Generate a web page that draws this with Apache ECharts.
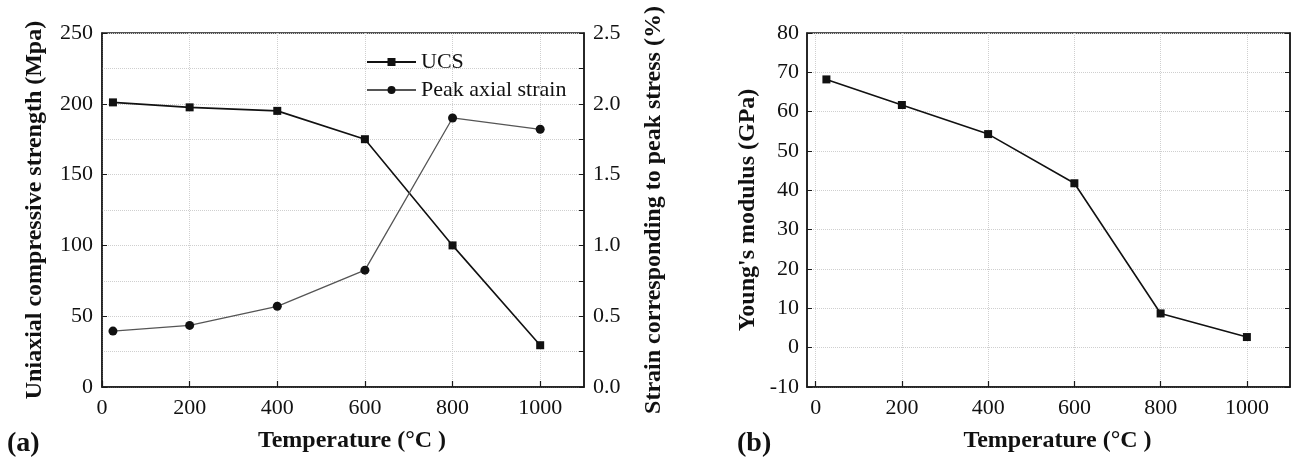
<!DOCTYPE html>
<html><head><meta charset="utf-8">
<script src="https://cdn.jsdelivr.net/npm/echarts@6/dist/echarts.min.js"></script>
<style>html,body{margin:0;padding:0;background:#fff}#c{width:1295px;height:460px}</style>
</head><body><div id="c"></div>
<script>
// ---- data ----
const temperatures = [25, 200, 400, 600, 800, 1000];
const ucs = [201, 197.5, 195, 175, 100, 29.5];
const peakStrain = [0.395, 0.435, 0.57, 0.825, 1.90, 1.82];
const youngsModulus = [68.2, 61.7, 54.3, 41.8, 8.7, 2.7];
const xTickValues = [0, 200, 400, 600, 800, 1000];
const seriesNames = ['UCS', 'Peak axial strain'];

const FONT = 'Liberation Serif';
const AX = '#1a1a1a';
const GRIDC = '#cfcfcf';
const pairs = (xs, ys) => xs.map((x, i) => [x, ys[i]]);

const splitDotted = {show: true, lineStyle: {color: GRIDC, type: 'dotted', width: 1}};
const labelStyle = {fontFamily: FONT, fontSize: 22, color: '#111'};
const nameStyleY = {fontFamily: FONT, fontSize: 24, fontWeight: 'bold', color: '#111'};
const nameStyleX = {fontFamily: FONT, fontSize: 24, fontWeight: 'bold', color: '#111', padding: [0, 0, 0, 18]};

function xAxisFor(gi, min) {
  return {
    type: 'value', gridIndex: gi, min: min, max: 1100,
    name: 'Temperature (°C )', nameLocation: 'middle', nameGap: 42, nameTextStyle: nameStyleX,
    axisLine: {show: true, onZero: false, lineStyle: {color: AX, width: 1.5}},
    axisTick: {show: true, inside: true, length: 6, customValues: xTickValues, lineStyle: {color: AX, width: 1.2}},
    axisLabel: Object.assign({customValues: xTickValues, margin: 10, formatter: v => String(v)}, labelStyle),
    splitLine: splitDotted
  };
}

const chart = echarts.init(document.getElementById('c'), null, {renderer: 'canvas'});
chart.setOption({
  animation: false,
  backgroundColor: '#fff',
  grid: [
    {left: 102, right: 711, top: 33, bottom: 73, show: true, borderColor: AX, borderWidth: 1.5, backgroundColor: 'transparent'},
    {left: 807, right: 5, top: 33, bottom: 73, show: true, borderColor: AX, borderWidth: 1.5, backgroundColor: 'transparent'}
  ],
  legend: {
    data: seriesNames, orient: 'vertical', left: 366, top: 51,
    itemWidth: 49, itemHeight: 10, itemGap: 6, padding: 0,
    textStyle: {fontFamily: FONT, fontSize: 22, color: '#111'}
  },
  xAxis: [xAxisFor(0, 0), xAxisFor(1, -20)],
  yAxis: [
    {type: 'value', gridIndex: 0, min: 0, max: 250, interval: 50, position: 'left',
     name: 'Uniaxial compressive strength (Mpa)', nameLocation: 'middle', nameGap: 55, nameTextStyle: nameStyleY,
     axisLine: {show: true, onZero: false, lineStyle: {color: AX, width: 1.5}},
     axisTick: {show: true, inside: true, length: 5, lineStyle: {color: AX}},
     axisLabel: Object.assign({margin: 9}, labelStyle),
     splitLine: splitDotted,
     minorTick: {show: false, splitNumber: 2},
     minorSplitLine: {show: true, lineStyle: {color: GRIDC, type: 'dotted', width: 1}}},
    {type: 'value', gridIndex: 0, min: 0, max: 2.5, interval: 0.5, position: 'right',
     name: 'Strain corresponding to peak stress (%)', nameLocation: 'middle', nameGap: 58, nameRotate: 90, nameTextStyle: nameStyleY,
     axisLine: {show: true, onZero: false, lineStyle: {color: AX, width: 1.5}},
     axisTick: {show: true, inside: true, length: 5, lineStyle: {color: AX}},
     minorTick: {show: true, splitNumber: 2, length: 5, lineStyle: {color: AX}},
     axisLabel: Object.assign({margin: 9, formatter: v => v.toFixed(1)}, labelStyle),
     splitLine: {show: false}},
    {type: 'value', gridIndex: 1, min: -10, max: 80, interval: 10, position: 'left',
     name: "Young's modulus (GPa)", nameLocation: 'middle', nameGap: 47, nameTextStyle: nameStyleY,
     axisLine: {show: true, onZero: false, lineStyle: {color: AX, width: 1.5}},
     axisTick: {show: true, inside: true, length: 5, lineStyle: {color: AX}},
     axisLabel: Object.assign({margin: 8}, labelStyle),
     splitLine: splitDotted},
    {type: 'value', gridIndex: 1, min: -10, max: 80, interval: 10, position: 'right',
     axisLine: {show: true, onZero: false, lineStyle: {color: AX, width: 1.5}},
     axisTick: {show: true, inside: true, length: 5, lineStyle: {color: AX}},
     axisLabel: {show: false}, splitLine: {show: false}}
  ],
  series: [
    {name: seriesNames[0], type: 'line', xAxisIndex: 0, yAxisIndex: 0, data: pairs(temperatures, ucs),
     symbol: 'rect', symbolSize: 8, lineStyle: {color: '#111', width: 1.6}, itemStyle: {color: '#111'}},
    {name: seriesNames[1], type: 'line', xAxisIndex: 0, yAxisIndex: 1, data: pairs(temperatures, peakStrain),
     symbol: 'circle', symbolSize: 9, lineStyle: {color: '#555', width: 1.3}, itemStyle: {color: '#111'}},
    {name: "Young's modulus", type: 'line', xAxisIndex: 1, yAxisIndex: 2, data: pairs(temperatures, youngsModulus),
     symbol: 'rect', symbolSize: 8, lineStyle: {color: '#111', width: 1.6}, itemStyle: {color: '#111'}}
  ],
  graphic: [
    {type: 'text', left: 7, top: 430, style: {text: '(a)', fontFamily: FONT, fontSize: 28, fontWeight: 'bold', fill: '#111'}},
    {type: 'text', left: 737, top: 430, style: {text: '(b)', fontFamily: FONT, fontSize: 28, fontWeight: 'bold', fill: '#111'}}
  ]
});
</script>
</body></html>
